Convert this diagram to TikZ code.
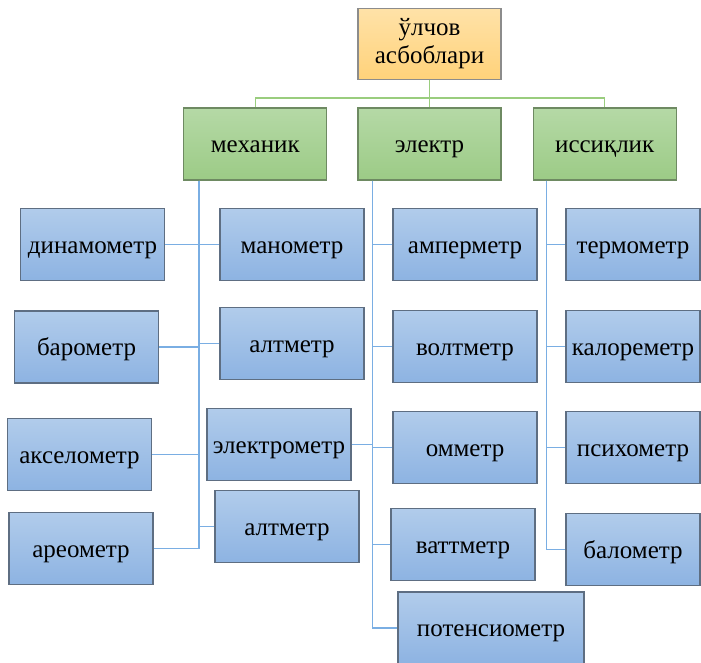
\documentclass[tikz,border=0pt]{standalone}
\usepackage{fontspec}
\setmainfont{Liberation Serif}
\usepackage{tikz}
\usetikzlibrary{
  calc,
  positioning
}

\definecolor{rootborder}{HTML}{8C8C8C}
\definecolor{roottop}{HTML}{FFE2A8}
\definecolor{rootbot}{HTML}{FFD27A}
\definecolor{grpborder}{HTML}{6E8A62}
\definecolor{grptop}{HTML}{B5D9A6}
\definecolor{grpbot}{HTML}{9CCB86}
\definecolor{leafborder}{HTML}{5E6E82}
\definecolor{leaftop}{HTML}{B1CCEB}
\definecolor{leafbot}{HTML}{8DB3E2}
\definecolor{trunkline}{HTML}{9ACD7E}
\definecolor{busline}{HTML}{7AAEE3}

\tikzset{
  box/.style={draw, line width=1.2pt, minimum height=72pt, inner sep=2pt,
    font=\fontsize{25}{28}\selectfont},
  onerow/.style={text height=17pt, text depth=0pt},
  rootbox/.style={box, draw=rootborder, top color=roottop, bottom color=rootbot,
    minimum width=143pt, minimum height=71pt, align=center},
  grpbox/.style={box, onerow, draw=grpborder, top color=grptop, bottom color=grpbot,
    minimum width=143pt},
  leaf/.style={box, onerow, draw=leafborder, top color=leaftop, bottom color=leafbot,
    minimum width=144pt},
  trunk/.style={draw=trunkline, line width=1.5pt},
  bus/.style={draw=busline, line width=1.6pt}
}

\begin{document}
\begin{tikzpicture}[x=1pt,y=-1pt]
      \useasboundingbox (0,0) rectangle (701,662);
      \clip (0,0) rectangle (701,662);

      % root and groups
      \node[rootbox] (root) at (429.5,44) {ўлчов\\асбоблари};
      \node[grpbox] (elec) at (429.5,144) {электр};
      \node[grpbox, left = 30pt of elec] (mech) {механик};
      \node[grpbox, right = 31pt of elec] (heat) {иссиқлик};

      % green links
      \draw[trunk] (root.south) -- ++(0,18) -| (mech.north);
      \draw[trunk] (root.south) -- ++(0,18) -| (heat.north);
      \draw[trunk] (root.south) -- (elec.north);

      % mechanic leaves
      \node[leaf] (dyn) at (92.5,244.5) {динамометр};
      \node[leaf] (mano) at (292,244.5) {манометр};
      \node[leaf] (baro) at (86.5,347) {барометр};
      \node[leaf] (altA) at (292,343.5) {алтметр};
      \node[leaf] (accel) at (79.5,454.5) {акселометр};
      \node[leaf] (electro) at (279,444.5) {электрометр};
      \node[leaf] (altB) at (287,526.5) {алтметр};
      \node[leaf] (areo) at (81,548.5) {ареометр};

      % electric leaves
      \node[leaf] (amp) at (465,244.5) {амперметр};
      \node[leaf] (volt) at (465,346.5) {волтметр};
      \node[leaf] (ohm) at (465,447.5) {омметр};
      \node[leaf] (watt) at (463,544.5) {ваттметр};
      \node[leaf, minimum width=186pt] (pot) at (491,628) {потенсиометр};

      % heat leaves
      \node[leaf, minimum width=134pt] (thermo) at (633,244.5) {термометр};
      \node[leaf, minimum width=134pt] (calor) at (633,346.5) {калореметр};
      \node[leaf, minimum width=134pt] (psych) at (633,447.5) {психометр};
      \node[leaf, minimum width=134pt] (bolo) at (633,549.5) {балометр};

      % bus lines
      \coordinate (mechbus) at ($(mech.south west)+(16,0)$);
      \coordinate (elecbus) at ($(elec.south west)+(15,0)$);
      \coordinate (heatbus) at ($(heat.south west)+(14,0)$);

      \foreach \leafname in {dyn, baro, accel, areo}
        \draw[bus] (mechbus) |- (\leafname.east);
      \foreach \leafname in {mano, altA, altB}
        \draw[bus] (mechbus) |- (\leafname.west);
      \draw[bus] (electro.east) -| (elecbus);
      \foreach \leafname in {amp, volt, ohm, watt, pot}
        \draw[bus] (elecbus) |- (\leafname.west);
      \foreach \leafname in {thermo, calor, psych, bolo}
        \draw[bus] (heatbus) |- (\leafname.west);
    \end{tikzpicture}
\end{document}
